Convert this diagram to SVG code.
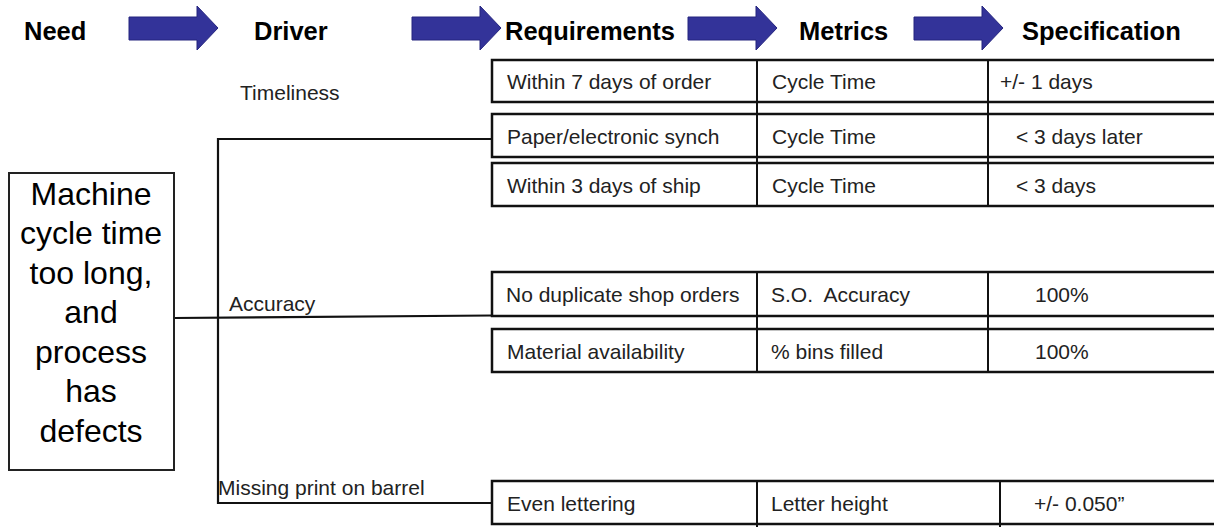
<svg xmlns="http://www.w3.org/2000/svg" xmlns:xlink="http://www.w3.org/1999/xlink" width="1214" height="527" viewBox="0 0 1214 527">
<style>
.hdr{font-family:"Liberation Sans",Arial,sans-serif;font-weight:bold;font-size:25.5px;fill:#000}
.t{font-family:"Liberation Sans",Arial,sans-serif;font-size:21px;fill:#222}
.need{font-family:"Liberation Sans",Arial,sans-serif;font-size:32px;fill:#000;text-anchor:middle}
.row{fill:none;stroke:#111;stroke-width:2.5}
.div{stroke:#111;stroke-width:2}
.conn{fill:none;stroke:#111;stroke-width:2.2}
.arrow{fill:#333399;stroke:#25257f;stroke-width:1}
</style>
<defs>
<polygon id="arr" points="0,17 68,17 68,6 89,28 68,50 68,40 0,40"/>
</defs>
<rect width="1214" height="527" fill="#fff"/>
<g id="header">
<text class="hdr" x="24" y="40">Need</text>
<use xlink:href="#arr" class="arrow" x="129"/>
<text class="hdr" x="254" y="40">Driver</text>
<use xlink:href="#arr" class="arrow" x="412"/>
<text class="hdr" x="505" y="40">Requirements</text>
<use xlink:href="#arr" class="arrow" x="688"/>
<text class="hdr" x="799" y="40">Metrics</text>
<use xlink:href="#arr" class="arrow" x="914"/>
<text class="hdr" x="1022" y="40">Specification</text>
</g>
<g id="connectors">
<line class="conn" x1="174" y1="318" x2="492" y2="315.5"/>
<polyline class="conn" points="492,139 218,139 218,503 492,503"/>
</g>
<g id="need">
<rect x="9" y="173" width="165" height="297" fill="#fff" stroke="#222" stroke-width="2"/>
<text class="need" x="91" y="205">Machine</text>
<text class="need" x="91" y="244">cycle time</text>
<text class="need" x="91" y="284">too long,</text>
<text class="need" x="91" y="323">and</text>
<text class="need" x="91" y="363">process</text>
<text class="need" x="91" y="402">has</text>
<text class="need" x="91" y="442">defects</text>
</g>
<g id="drivers">
<text class="t" x="240" y="100">Timeliness</text>
<text class="t" x="229" y="311">Accuracy</text>
<text class="t" x="218" y="495">Missing print on barrel</text>
</g>
<g id="row1">
<rect class="row" x="492" y="60" width="730" height="42"/>
<line class="div" x1="757" y1="60" x2="757" y2="102"/>
<line class="div" x1="988" y1="60" x2="988" y2="102"/>
<text class="t" x="507" y="89">Within 7 days of order</text>
<text class="t" x="772" y="89">Cycle Time</text>
<text class="t" x="1000" y="89">+/- 1 days</text>
</g>
<g id="row2">
<rect class="row" x="492" y="114" width="730" height="43"/>
<line class="div" x1="757" y1="102" x2="757" y2="157"/>
<line class="div" x1="988" y1="102" x2="988" y2="157"/>
<text class="t" x="507" y="144">Paper/electronic synch</text>
<text class="t" x="772" y="144">Cycle Time</text>
<text class="t" x="1016" y="144">&lt; 3 days later</text>
</g>
<g id="row3">
<rect class="row" x="492" y="163" width="730" height="43"/>
<line class="div" x1="757" y1="157" x2="757" y2="206"/>
<line class="div" x1="988" y1="157" x2="988" y2="206"/>
<text class="t" x="507" y="193">Within 3 days of ship</text>
<text class="t" x="772" y="193">Cycle Time</text>
<text class="t" x="1016" y="193">&lt; 3 days</text>
</g>
<g id="row4">
<rect class="row" x="492" y="272" width="730" height="44"/>
<line class="div" x1="757" y1="272" x2="757" y2="316"/>
<line class="div" x1="988" y1="272" x2="988" y2="316"/>
<text class="t" x="506" y="302">No duplicate shop orders</text>
<text class="t" x="771" y="302">S.O.&#160; Accuracy</text>
<text class="t" x="1035" y="302">100%</text>
</g>
<g id="row5">
<rect class="row" x="492" y="329" width="730" height="43"/>
<line class="div" x1="757" y1="316" x2="757" y2="372"/>
<line class="div" x1="988" y1="316" x2="988" y2="372"/>
<text class="t" x="507" y="359">Material availability</text>
<text class="t" x="771" y="359">% bins filled</text>
<text class="t" x="1035" y="359">100%</text>
</g>
<g id="row6">
<rect class="row" x="492" y="481" width="730" height="43"/>
<line class="div" x1="757" y1="481" x2="757" y2="527"/>
<line class="div" x1="1000" y1="481" x2="1000" y2="527"/>
<text class="t" x="507" y="511">Even lettering</text>
<text class="t" x="771" y="511">Letter height</text>
<text class="t" x="1034" y="511">+/- 0.050”</text>
</g>
</svg>
